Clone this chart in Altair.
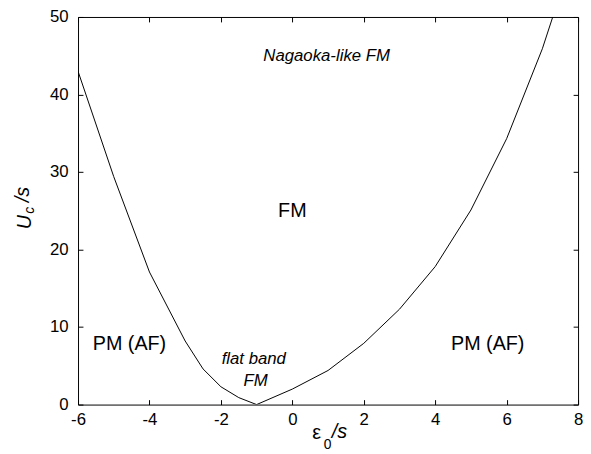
import altair as alt
import pandas as pd

# phase boundary U_c/s versus eps0/s
eps0 = [-6, -5, -4, -3, -2.5, -2, -1.5, -1, 0, 1, 2, 3, 4, 5, 6, 7, 8]
uc = [43.0, 29.4, 17.1, 8.2, 4.6, 2.3, 0.9, 0.0, 2.0, 4.4, 7.9, 12.3, 17.8, 25.1, 34.3, 45.9, 60.0]

x_ticks = [-6, -4, -2, 0, 2, 4, 6, 8]
y_ticks = [0, 10, 20, 30, 40, 50]

# region labels
normal_text = ["FM", "PM (AF)", "PM (AF)"]
normal_x = [0.0, -4.56, 5.47]
normal_y = [25.0, 7.8, 7.8]

italic_text = ["Nagaoka-like FM", "flat band", "FM"]
italic_x = [0.96, -1.08, -1.03]
italic_y = [44.9, 5.9, 3.0]

FONT = "Liberation Sans"
W, H = 507, 393

curve = pd.DataFrame({"eps": eps0, "uc": uc})
norm_df = pd.DataFrame({"x": normal_x, "y": normal_y, "t": normal_text})
ital_df = pd.DataFrame({"x": italic_x, "y": italic_y, "t": italic_text})

xs = alt.Scale(domain=[-6, 8], nice=False, zero=False)
ys = alt.Scale(domain=[0, 50], nice=False, zero=False)

line = alt.Chart(curve).mark_line(color="black", strokeWidth=1, clip=True).encode(
    x=alt.X("eps:Q", scale=xs, axis=alt.Axis(orient="bottom", values=x_ticks, tickSize=0, domain=False,
                                              grid=False, labelPadding=7, title=None, labelFlush=False,
                                              labelExpr="'' + datum.value")),
    y=alt.Y("uc:Q", scale=ys, axis=alt.Axis(orient="left", values=y_ticks, tickSize=0, domain=False,
                                             grid=False, labelPadding=10, title=None, labelFlush=False)),
)

def tick_layer(xo, yo):
    return alt.Chart(curve).mark_line(strokeOpacity=0).encode(
        x=alt.X("eps:Q", scale=xs, axis=alt.Axis(orient=xo, offset=-5, values=x_ticks, tickSize=5,
                                                  labels=False, domain=False, grid=False, title=None,
                                                  tickColor="black", tickWidth=1)),
        y=alt.Y("uc:Q", scale=ys, axis=alt.Axis(orient=yo, offset=-5, values=y_ticks, tickSize=5,
                                                 labels=False, domain=False, grid=False, title=None,
                                                 tickColor="black", tickWidth=1)),
    )

ticks_bl = tick_layer("bottom", "left")
ticks_tr = tick_layer("top", "right")

norm_txt = alt.Chart(norm_df).mark_text(font=FONT, fontSize=20, color="black").encode(
    x=alt.X("x:Q", scale=xs, axis=None), y=alt.Y("y:Q", scale=ys, axis=None), text="t:N")
ital_txt = alt.Chart(ital_df).mark_text(font=FONT, fontSize=17, fontStyle="italic", color="black").encode(
    x=alt.X("x:Q", scale=xs, axis=None), y=alt.Y("y:Q", scale=ys, axis=None), text="t:N")

# axis titles with subscripts (pixel positions relative to plot area)
def title_piece(txt, px, py, size, style, angle=0):
    return alt.Chart(pd.DataFrame({"t": [txt]})).mark_text(
        font=FONT, fontSize=size, fontStyle=style, color="black", angle=angle,
        align="center", baseline="middle").encode(
        x=alt.value(px), y=alt.value(py), text="t:N")

x_title = [
    title_piece("ε", 242, 422, 20, "normal"),
    title_piece("0", 253, 434, 14, "normal"),
    title_piece("/s", 265, 421, 20, "italic"),
]
y_title = [
    title_piece("U", -54, 208, 20, "italic", 270),
    title_piece("c", -49, 196, 14, "italic", 270),
    title_piece("/s", -56, 180, 20, "italic", 270),
]

chart = alt.layer(line, ticks_bl, ticks_tr, norm_txt, ital_txt, *x_title, *y_title).resolve_axis(
    x="independent", y="independent"
).properties(
    width=W, height=H,
    autosize=alt.AutoSizeParams(type="none"),
    padding={"left": 71, "top": 6, "right": 5, "bottom": 47},
    background="white",
).configure_view(stroke="black", strokeWidth=1).configure_axis(
    labelFont=FONT, labelFontSize=17, labelColor="black"
)

chart.save("out.html", embed_options={"renderer": "svg", "actions": False})
